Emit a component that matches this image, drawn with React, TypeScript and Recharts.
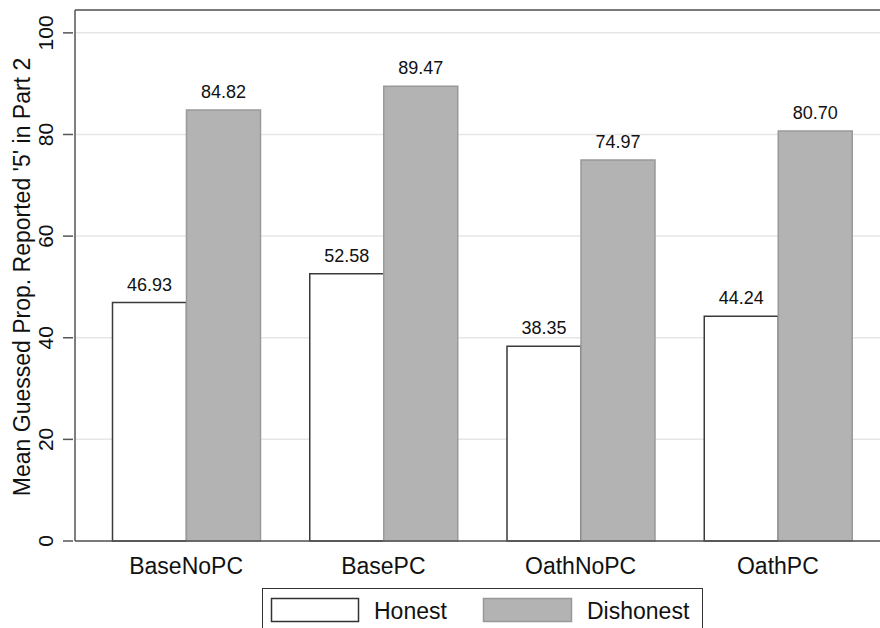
import { BarChart, Bar, XAxis, YAxis, CartesianGrid, LabelList, ReferenceLine } from "recharts";

const categories = ["BaseNoPC", "BasePC", "OathNoPC", "OathPC"];
const honest = [46.93, 52.58, 38.35, 44.24];
const dishonest = [84.82, 89.47, 74.97, 80.7];
const yTicks = [0, 20, 40, 60, 80, 100];
const yMax = 104.5;

const FONT = "'Liberation Sans', Arial, Helvetica, sans-serif";
const AXIS = "#555555";
const GRAY = "#b3b3b3";

const chartData = categories.map((name, i) => ({
    name,
    honest: honest[i],
    dishonest: dishonest[i],
}));

function YTick(props: any) {
    const { x, y, payload } = props;
    return (
        <g>
            <line x1={x} y1={y} x2={x + 10} y2={y} stroke={AXIS} strokeWidth={1.5} />
            <text
                x={x - 10}
                y={y}
                transform={`rotate(-90 ${x - 10} ${y})`}
                textAnchor="middle"
                fontSize={21}
                fontFamily={FONT}
                fill="#111"
            >
                {payload.value}
            </text>
        </g>
    );
}

function XTick(props: any) {
    const { x, y, payload } = props;
    return (
        <text x={x} y={y + 25} textAnchor="middle" fontSize={23} fontFamily={FONT} fill="#111">
            {payload.value}
        </text>
    );
}

function YLabel() {
    return (
        <text
            x={30}
            y={277}
            transform="rotate(-90 30 277)"
            textAnchor="middle"
            fontSize={23}
            fontFamily={FONT}
            fill="#111"
        >
            Mean Guessed Prop. Reported '5' in Part 2
        </text>
    );
}

function LegendBox() {
    return (
        <svg
            width={442}
            height={40}
            style={{ position: "absolute", left: 262, top: 588, display: "block" }}
        >
            <rect x={0.5} y={0.5} width={440} height={60} fill="#fff" stroke="#333" strokeWidth={1} />
            <rect x={9.5} y={10.5} width={87} height={23} fill="#fff" stroke="#333" strokeWidth={1.5} />
            <text x={112} y={31} fontSize={23} fontFamily={FONT} fill="#111">Honest</text>
            <rect x={221.5} y={10.5} width={88} height={23} fill={GRAY} stroke="#999" strokeWidth={1.5} />
            <text x={325} y={31} fontSize={23} fontFamily={FONT} fill="#111">Dishonest</text>
        </svg>
    );
}

const fmt = (v: any) => Number(v).toFixed(2);

export default function App() {
    return (
        <div
            style={{
                position: "fixed",
                left: 0,
                top: 0,
                width: 880,
                height: 628,
                overflow: "hidden",
                background: "#fff",
            }}
        >
            <BarChart
                width={880}
                height={640}
                data={chartData}
                margin={{ top: 10, right: -9, left: 0, bottom: 0 }}
                barCategoryGap={25}
                barGap={0}
            >
                <CartesianGrid vertical={false} stroke="#e6e6e6" strokeWidth={1.5} />
                <XAxis
                    dataKey="name"
                    height={99}
                    padding={{ left: 12.5, right: 12.5 }}
                    tickLine={false}
                    axisLine={{ stroke: AXIS, strokeWidth: 1.5 }}
                    tick={<XTick />}
                    interval={0}
                />
                <YAxis
                    width={75}
                    domain={[0, yMax]}
                    ticks={yTicks}
                    tickLine={false}
                    tickSize={10}
                    axisLine={{ stroke: AXIS, strokeWidth: 1.5 }}
                    tick={<YTick />}
                    interval={0}
                    label={<YLabel />}
                />
                <ReferenceLine y={yMax} stroke={AXIS} strokeWidth={1.5} />
                <Bar dataKey="honest" fill="#ffffff" stroke="#3a3a3a" strokeWidth={1.5} isAnimationActive={false}>
                    <LabelList
                        dataKey="honest"
                        position="top"
                        offset={12}
                        formatter={fmt}
                        style={{ fontSize: 18, fontFamily: FONT, fill: "#111" }}
                    />
                </Bar>
                <Bar dataKey="dishonest" fill={GRAY} stroke="#999999" strokeWidth={1.5} isAnimationActive={false}>
                    <LabelList
                        dataKey="dishonest"
                        position="top"
                        offset={12}
                        formatter={fmt}
                        style={{ fontSize: 18, fontFamily: FONT, fill: "#111" }}
                    />
                </Bar>
            </BarChart>
            <LegendBox />
        </div>
    );
}
